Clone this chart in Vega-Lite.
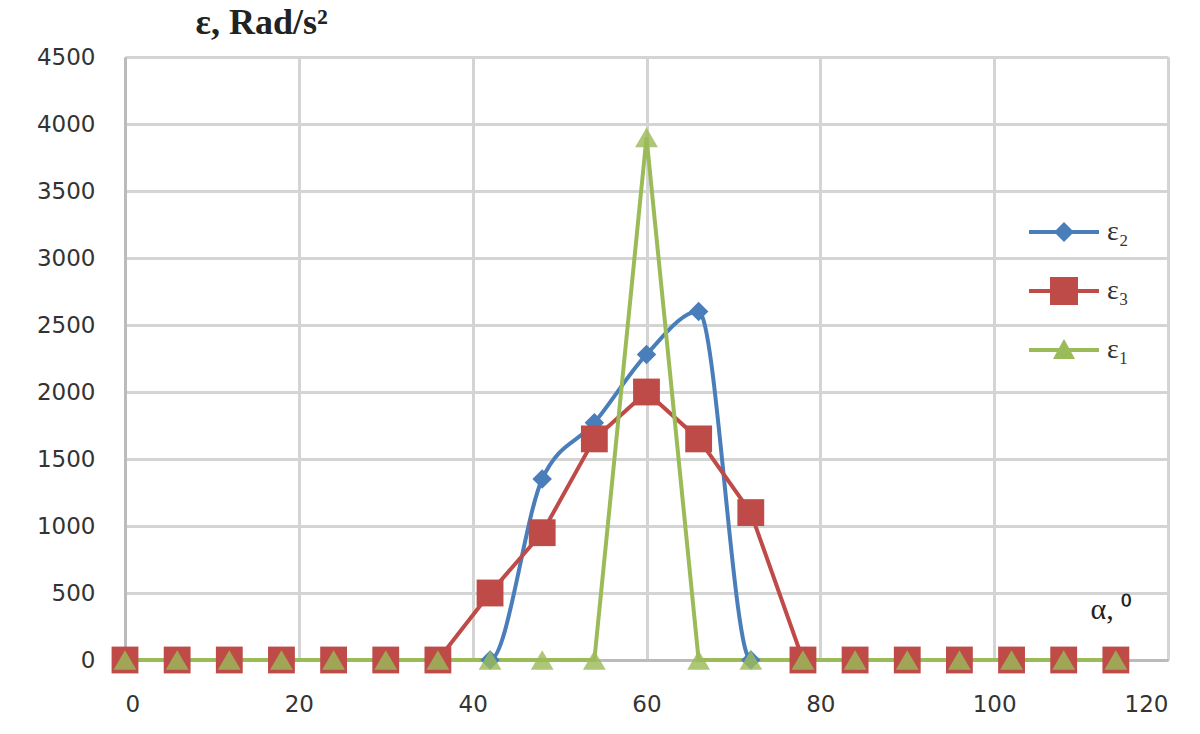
{
  "$schema": "https://vega.github.io/schema/vega-lite/v6.json",
  "autosize": {"type": "none"},
  "width": 1043,
  "height": 603,
  "padding": {"left": 125, "top": 57, "right": 32, "bottom": 74},
  "background": "white",
  "data": {"values": [
    {"a": 0, "s": "ε₂", "v": 0}, {"a": 6, "s": "ε₂", "v": 0}, {"a": 12, "s": "ε₂", "v": 0}, {"a": 18, "s": "ε₂", "v": 0},
    {"a": 24, "s": "ε₂", "v": 0}, {"a": 30, "s": "ε₂", "v": 0}, {"a": 36, "s": "ε₂", "v": 0}, {"a": 42, "s": "ε₂", "v": 0},
    {"a": 48, "s": "ε₂", "v": 1350}, {"a": 54, "s": "ε₂", "v": 1770}, {"a": 60, "s": "ε₂", "v": 2280}, {"a": 66, "s": "ε₂", "v": 2600},
    {"a": 72, "s": "ε₂", "v": 0}, {"a": 78, "s": "ε₂", "v": 0}, {"a": 84, "s": "ε₂", "v": 0}, {"a": 90, "s": "ε₂", "v": 0},
    {"a": 96, "s": "ε₂", "v": 0}, {"a": 102, "s": "ε₂", "v": 0}, {"a": 108, "s": "ε₂", "v": 0}, {"a": 114, "s": "ε₂", "v": 0},
    {"a": 0, "s": "ε₃", "v": 0}, {"a": 6, "s": "ε₃", "v": 0}, {"a": 12, "s": "ε₃", "v": 0}, {"a": 18, "s": "ε₃", "v": 0},
    {"a": 24, "s": "ε₃", "v": 0}, {"a": 30, "s": "ε₃", "v": 0}, {"a": 36, "s": "ε₃", "v": 0}, {"a": 42, "s": "ε₃", "v": 500},
    {"a": 48, "s": "ε₃", "v": 950}, {"a": 54, "s": "ε₃", "v": 1650}, {"a": 60, "s": "ε₃", "v": 2000}, {"a": 66, "s": "ε₃", "v": 1650},
    {"a": 72, "s": "ε₃", "v": 1100}, {"a": 78, "s": "ε₃", "v": 0}, {"a": 84, "s": "ε₃", "v": 0}, {"a": 90, "s": "ε₃", "v": 0},
    {"a": 96, "s": "ε₃", "v": 0}, {"a": 102, "s": "ε₃", "v": 0}, {"a": 108, "s": "ε₃", "v": 0}, {"a": 114, "s": "ε₃", "v": 0},
    {"a": 0, "s": "ε₁", "v": 0}, {"a": 6, "s": "ε₁", "v": 0}, {"a": 12, "s": "ε₁", "v": 0}, {"a": 18, "s": "ε₁", "v": 0},
    {"a": 24, "s": "ε₁", "v": 0}, {"a": 30, "s": "ε₁", "v": 0}, {"a": 36, "s": "ε₁", "v": 0}, {"a": 42, "s": "ε₁", "v": 0},
    {"a": 48, "s": "ε₁", "v": 0}, {"a": 54, "s": "ε₁", "v": 0}, {"a": 60, "s": "ε₁", "v": 3900}, {"a": 66, "s": "ε₁", "v": 0},
    {"a": 72, "s": "ε₁", "v": 0}, {"a": 78, "s": "ε₁", "v": 0}, {"a": 84, "s": "ε₁", "v": 0}, {"a": 90, "s": "ε₁", "v": 0},
    {"a": 96, "s": "ε₁", "v": 0}, {"a": 102, "s": "ε₁", "v": 0}, {"a": 108, "s": "ε₁", "v": 0}, {"a": 114, "s": "ε₁", "v": 0}
  ]},
  "encoding": {
    "x": {
      "field": "a", "type": "quantitative",
      "scale": {"domain": [0, 120], "nice": false},
      "axis": {
        "values": [0, 20, 40, 60, 80, 100, 120],
        "title": "α, ⁰",
        "titleFont": "Liberation Serif", "titleFontSize": 30, "titleFontWeight": "normal", "titleColor": "#222",
        "titleAngle": 0, "titleAlign": "left", "titleBaseline": "alphabetic",
        "titleX": 965, "titleY": -42, "titleAnchor": null,
        "labelFont": "DejaVu Sans", "labelFontSize": 23, "labelColor": "#333", "labelPadding": 33,
        "ticks": false, "grid": true, "gridColor": "#d4d4d4", "gridWidth": 3,
        "domainColor": "#bbbbbb", "domainWidth": 3
      }
    },
    "y": {
      "field": "v", "type": "quantitative",
      "scale": {"domain": [0, 4500], "nice": false},
      "axis": {
        "values": [0, 500, 1000, 1500, 2000, 2500, 3000, 3500, 4000, 4500],
        "format": "d",
        "title": "ε, Rad/s²",
        "titleFont": "Liberation Serif", "titleFontSize": 36, "titleFontWeight": "bold", "titleColor": "#222",
        "titleAngle": 0, "titleAlign": "left", "titleBaseline": "alphabetic",
        "titleX": 70, "titleY": -24, "titleAnchor": null,
        "labelFont": "DejaVu Sans", "labelFontSize": 23, "labelColor": "#333", "labelPadding": 30,
        "ticks": false, "grid": true, "gridColor": "#d4d4d4", "gridWidth": 3,
        "domainColor": "#bbbbbb", "domainWidth": 3
      }
    },
    "color": {
      "field": "s", "type": "nominal",
      "scale": {"domain": ["ε₂", "ε₃", "ε₁"], "range": ["#4a7ebb", "#be4b48", "#9bbb59"]},
      "legend": {
        "title": null, "orient": "none", "legendX": 925, "legendY": 161,
        "labelFont": "Liberation Serif", "labelFontSize": 28, "labelColor": "#333",
        "rowPadding": 31, "symbolSize": 400, "symbolStrokeWidth": 0, "labelOffset": 29, "symbolOpacity": 1,
        "encode": {
          "symbols": {
            "update": {
              "shape": {"signal": "datum.value === 'ε₂' ? 'M-3.5,-0.2H-0.8L0,-1L0.8,-0.2H3.5V0.2H0.8L0,1L-0.8,0.2H-3.5Z' : datum.value === 'ε₃' ? 'M-3.5,-0.2H-1.4V-1.4H1.4V-0.2H3.5V0.2H1.4V1.4H-1.4V0.2H-3.5Z' : 'M-3.5,-0.2H-0.5L0,-1.1L0.5,-0.2H3.5V0.2H0.72L1.1,0.9H-1.1L-0.72,0.2H-3.5Z'"},
              "fill": {"scale": "color", "field": "value"},
              "fillOpacity": {"value": 1},
              "strokeWidth": {"value": 0}
            }
          }
        }
      }
    }
  },
  "layer": [
    {
      "transform": [{"filter": "datum.s === 'ε₂'"}],
      "mark": {"type": "line", "interpolate": "monotone", "strokeWidth": 4}
    },
    {
      "transform": [{"filter": "datum.s !== 'ε₂'"}],
      "mark": {"type": "line", "strokeWidth": 4},
      "encoding": {"detail": {"field": "s"}}
    },
    {
      "transform": [{"filter": "datum.s === 'ε₂'"}],
      "mark": {"type": "point", "filled": true, "shape": "diamond", "size": 380, "opacity": 1}
    },
    {
      "transform": [{"filter": "datum.s === 'ε₃'"}],
      "mark": {"type": "point", "filled": true, "shape": "square", "size": 720, "opacity": 1}
    },
    {
      "transform": [{"filter": "datum.s === 'ε₁'"}],
      "mark": {"type": "point", "filled": true, "shape": "triangle-up", "size": 520, "opacity": 0.82}
    }
  ]
}
